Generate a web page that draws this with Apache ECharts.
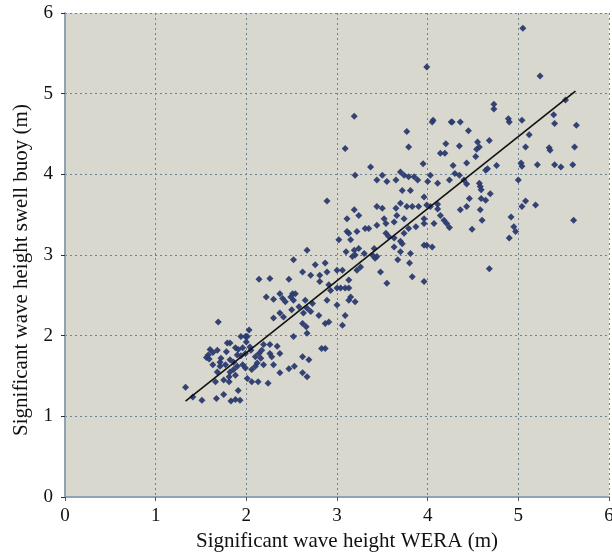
<!DOCTYPE html>
<html>
<head>
<meta charset="utf-8">
<script src="https://cdn.jsdelivr.net/npm/echarts@6/dist/echarts.min.js"></script>
<style>
  html, body { margin: 0; padding: 0; background: #fff; }
  #chart { width: 612px; height: 553px; }
</style>
</head>
<body>
<div id="chart"></div>
<script>
// significant wave height, WERA radar (x) vs swell buoy (y), metres
var xWera = [
  1.69,1.33,1.41,1.51,1.67,1.75,1.83,1.88,1.93,1.91,1.81,
  1.60,1.63,1.58,1.56,1.68,1.72,1.71,1.78,1.79,1.82,1.88,1.91,1.96,1.90,1.94,1.99,1.94,1.99,
  1.96,1.90,1.86,1.82,1.88,1.81,1.77,1.82,1.86,1.99,1.68,1.75,1.66,1.59,1.63,1.71,2.00,
  2.89,3.19,3.24,3.11,3.44,3.50,3.65,3.70,3.77,3.83,3.90,3.99,
  3.52,3.54,3.63,3.66,3.74,3.96,3.96,3.44,3.31,3.35,3.22,3.11,3.13,3.54,3.57,3.74,3.79,3.87,
  3.02,3.15,3.24,3.19,3.10,3.20,3.30,3.17,3.41,3.39,3.42,3.44,3.63,3.70,3.72,3.63,3.70,3.81,
  3.96,3.99,3.67,3.80,3.83,3.96,3.55,3.48,3.22,3.26,
  2.67,2.52,2.76,2.87,2.62,2.71,2.81,2.89,3.00,3.06,2.14,2.26,2.47,2.81,2.91,3.04,3.09,3.13,
  3.13,3.00,2.22,2.30,2.37,2.40,2.43,2.49,2.51,2.54,2.52,2.65,2.73,2.67,2.63,2.71,2.80,2.89,
  2.93,3.00,3.15,3.20,3.13,2.37,2.30,2.41,2.50,2.58,2.62,2.66,2.67,2.87,2.91,3.09,3.06,2.52,
  2.83,2.87,2.03,2.01,2.19,2.26,2.34,2.37,2.28,2.16,2.05,2.10,2.12,2.19,2.30,2.62,2.69,2.53,
  2.37,2.62,2.67,2.01,2.06,2.13,2.24,2.47,2.14,2.26,2.04,2.10,2.06,2.17,
  3.77,3.79,3.09,3.37,3.20,3.44,3.50,3.55,3.65,3.70,3.74,3.79,3.85,3.89,4.00,3.95,3.72,3.81,
  3.96,3.19,3.99,
  5.05,5.24,4.73,4.73,4.89,4.90,5.04,5.39,5.40,5.52,5.64,4.06,4.26,4.36,4.45,4.20,4.14,4.19,
  4.35,4.55,4.57,4.54,4.68,4.53,4.43,4.28,4.30,4.35,4.03,4.11,4.24,4.40,4.43,4.57,4.58,4.59,
  4.66,4.64,4.76,4.69,4.59,4.64,4.58,4.60,4.49,4.36,4.43,4.46,4.21,4.18,4.24,4.14,4.07,4.11,
  4.11,4.03,4.05,4.68,4.92,4.95,4.97,4.90,5.04,5.08,5.19,5.00,5.03,5.04,5.08,5.12,5.21,5.34,
  5.35,5.40,5.47,5.60,5.62,5.61,4.05,4.27
];
var yBuoy = [
  2.17,1.36,1.24,1.20,1.22,1.27,1.19,1.21,1.20,1.32,1.43,
  1.83,1.79,1.76,1.73,1.82,1.72,1.67,1.80,1.91,1.91,1.85,1.83,1.85,1.76,1.75,1.78,1.99,1.99,
  1.64,1.62,1.58,1.55,1.51,1.49,1.64,1.70,1.67,1.60,1.55,1.45,1.43,1.71,1.64,1.62,1.92,
  3.67,3.56,3.49,3.45,3.60,3.58,3.58,3.64,3.60,3.60,3.60,3.62,
  3.45,3.39,3.41,3.49,3.45,3.45,3.39,3.37,3.33,3.33,3.29,3.29,3.27,3.27,3.23,3.27,3.33,3.35,
  3.19,3.19,3.08,3.06,3.04,3.00,3.02,2.98,3.08,3.00,2.96,2.98,3.21,3.17,3.14,3.10,3.04,3.02,
  3.12,3.12,2.94,2.90,2.73,2.67,2.65,2.79,2.81,2.85,
  3.06,2.94,2.88,2.90,2.79,2.75,2.75,2.79,2.81,2.81,2.70,2.71,2.70,2.67,2.63,2.59,2.59,2.59,
  2.69,2.59,2.48,2.45,2.52,2.46,2.42,2.48,2.52,2.52,2.44,2.44,2.40,2.34,2.28,2.30,2.25,2.44,
  2.56,2.38,2.48,2.42,2.44,2.28,2.22,2.23,2.32,2.36,2.15,2.11,2.03,2.15,2.17,2.25,2.13,1.99,
  1.84,1.84,2.07,1.99,1.89,1.89,1.87,1.78,1.74,1.72,1.82,1.74,1.66,1.64,1.64,1.74,1.70,1.62,
  1.54,1.54,1.49,1.47,1.43,1.43,1.41,1.59,1.78,1.78,1.86,1.62,1.58,1.82,
  4.53,4.34,4.32,4.09,3.99,3.93,3.99,3.91,3.93,4.03,3.99,3.97,3.97,3.93,3.91,4.13,3.80,3.80,
  3.72,4.72,5.33,
  5.81,5.22,4.87,4.81,4.69,4.65,4.67,4.74,4.63,4.92,4.61,4.67,4.65,4.65,4.54,4.38,4.26,4.26,
  4.35,4.40,4.34,4.31,4.42,4.22,4.14,4.11,4.01,3.99,3.99,3.89,3.93,3.93,3.88,3.89,3.85,3.81,
  4.07,4.05,4.11,3.76,3.70,3.68,3.56,3.43,3.32,3.56,3.60,3.70,3.39,3.43,3.34,3.49,3.39,3.63,
  3.57,3.60,3.10,2.83,3.47,3.35,3.29,3.21,3.60,3.67,3.62,3.93,4.14,4.10,4.34,4.49,4.12,4.33,
  4.30,4.12,4.09,4.12,4.34,3.43,4.65,4.65
];
// least-squares line end points as drawn
var fitX = [1.33, 5.63];
var fitY = [1.19, 5.03];
var axisTicks = [0, 1, 2, 3, 4, 5, 6];

var points = [];
for (var i = 0; i < xWera.length; i++) {
    points.push([xWera[i], yBuoy[i]]);
}
var fitLine = [[fitX[0], fitY[0]], [fitX[1], fitY[1]]];

var serif = 'Liberation Serif';
var gridLine = { show: true, lineStyle: { color: '#6a8296', type: [2, 3], width: 1 } };

var myChart = echarts.init(document.getElementById('chart'));
var option = {
    backgroundColor: '#ffffff',
    animation: false,
    grid: {
        left: 65, right: 3, top: 13, bottom: 56,
        outerBoundsMode: 'none',
        show: true,
        backgroundColor: '#d8d8ce',
        borderWidth: 0
    },
    xAxis: {
        type: 'value',
        min: axisTicks[0], max: axisTicks[axisTicks.length - 1], interval: 1,
        name: 'Significant wave height WERA (m)',
        nameLocation: 'middle',
        nameGap: 31,
        nameTextStyle: { fontFamily: serif, fontSize: 21, color: '#111', padding: [0, 0, 0, 20] },
        axisLine: { show: true, onZero: false, lineStyle: { color: '#8fa3b3', width: 2 } },
        axisTick: { show: true, length: 4, lineStyle: { color: '#555' } },
        axisLabel: { fontFamily: serif, fontSize: 19, color: '#111', margin: 10 },
        splitLine: gridLine
    },
    yAxis: {
        type: 'value',
        min: axisTicks[0], max: axisTicks[axisTicks.length - 1], interval: 1,
        name: 'Significant wave height swell buoy (m)',
        nameLocation: 'middle',
        nameGap: 33,
        nameTextStyle: { fontFamily: serif, fontSize: 21, color: '#111', padding: [0, 30, 0, 0] },
        axisLine: { show: true, onZero: false, lineStyle: { color: '#8fa3b3', width: 2 } },
        axisTick: { show: true, length: 4, lineStyle: { color: '#333' } },
        axisLabel: { fontFamily: serif, fontSize: 19, color: '#111', margin: 12 },
        splitLine: gridLine
    },
    series: [
        {
            type: 'scatter',
            symbol: 'diamond',
            symbolSize: 7,
            itemStyle: { color: '#2b3b6e', opacity: 0.95 },
            data: points
        },
        {
            type: 'line',
            symbol: 'none',
            lineStyle: { color: '#111', width: 1.6 },
            data: fitLine
        }
    ]
};
myChart.setOption(option);
</script>
</body>
</html>
